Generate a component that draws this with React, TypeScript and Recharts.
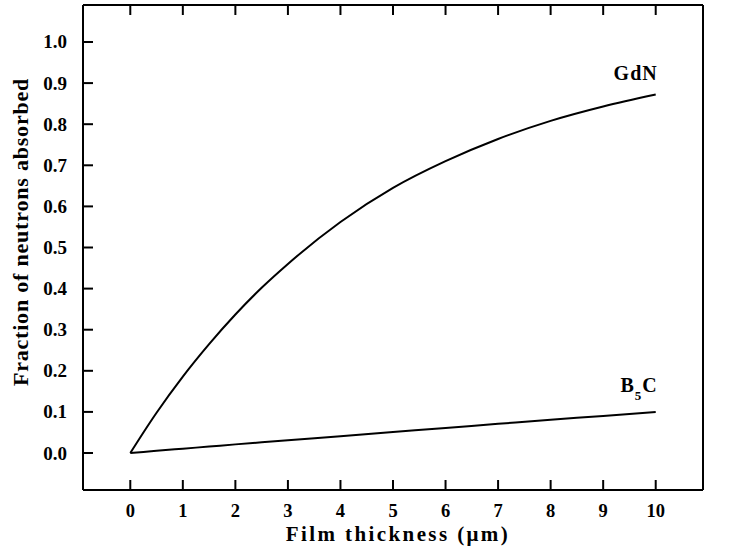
import { LineChart, Line, XAxis, YAxis, LabelList } from "recharts";

const thickness = [0, 0.25, 0.5, 1, 1.5, 2, 2.5, 3, 4, 5, 6, 7, 8, 9, 10];
const gdn = [0, 0.05, 0.098, 0.186, 0.265, 0.337, 0.402, 0.46, 0.562, 0.645, 0.71, 0.764, 0.808, 0.843, 0.872];
const b5c = [0, 0.0026, 0.0052, 0.0105, 0.0157, 0.021, 0.026, 0.031, 0.041, 0.051, 0.061, 0.071, 0.081, 0.090, 0.1];

const xTicks = [0, 1, 2, 3, 4, 5, 6, 7, 8, 9, 10];
const yTicks = [0, 0.1, 0.2, 0.3, 0.4, 0.5, 0.6, 0.7, 0.8, 0.9, 1.0];

const data = thickness.map((t, i) => ({ t, gdn: gdn[i], b5c: b5c[i] }));
const last = data.length - 1;

const W = 741;
const H = 557;
const box = { left: 83, right: 703, top: 5, bottom: 490 };
const font = "'Liberation Serif', 'Times New Roman', serif";
const tickLen = 10;

const txt = { fontFamily: font, fontWeight: 700, fill: "#000" };

const BottomTick = ({ x, payload }: any) => (
  <g>
    <line x1={x} x2={x} y1={box.bottom} y2={box.bottom - tickLen} stroke="#000" strokeWidth={2} />
    <text x={x} y={517} textAnchor="middle" fontSize={18.5} {...txt}>
      {payload.value}
    </text>
  </g>
);

const TopTick = ({ x }: any) => (
  <line x1={x} x2={x} y1={box.top} y2={box.top + tickLen} stroke="#000" strokeWidth={2} />
);

const LeftTick = ({ y, payload }: any) => (
  <g>
    <line x1={box.left} x2={box.left + tickLen} y1={y} y2={y} stroke="#000" strokeWidth={2} />
    <text x={67} y={y + 6.5} textAnchor="end" fontSize={19} {...txt}>
      {payload.value.toFixed(1)}
    </text>
  </g>
);

const RightTick = ({ y, payload }: any) => (
  <g>
    <line x1={box.right} x2={box.right - tickLen} y1={y} y2={y} stroke="#000" strokeWidth={2} />
    <text x={719} y={y + 6.5} textAnchor="start" fontSize={19} {...txt}>
      {payload.value.toFixed(1)}
    </text>
  </g>
);

const gdnLabel = (p: any) =>
  p.index === last ? (
    <text x={p.x + 2} y={p.y - 15} textAnchor="end" fontSize={20} letterSpacing={1} {...txt}>
      GdN
    </text>
  ) : null;

const b5cLabel = (p: any) =>
  p.index === last ? (
    <text x={p.x + 2} y={p.y - 20} textAnchor="end" fontSize={20} letterSpacing={1} {...txt}>
      B
      <tspan dy={8} fontSize={13}>5</tspan>
      <tspan dy={-8}>C</tspan>
    </text>
  ) : null;

const xTitle = () => (
  <text x={398} y={541} textAnchor="middle" fontSize={21} letterSpacing={2.4} {...txt}>
    Film thickness (μm)
  </text>
);

const yTitle = () => (
  <text transform="translate(28,232) rotate(-90)" textAnchor="middle" fontSize={22} letterSpacing={0.8} {...txt}>
    Fraction of neutrons absorbed
  </text>
);

const axisLine = { stroke: "#000", strokeWidth: 2 };

export default function App() {
  return (
    <div style={{ position: "absolute", left: 0, top: 0, width: W, height: H, background: "#fff" }}>
      <LineChart width={W} height={H} data={data} margin={{ top: 0, right: 0, bottom: 0, left: 0 }}>
        <XAxis
          xAxisId="b"
          dataKey="t"
          type="number"
          domain={[-0.9, 10.9]}
          ticks={xTicks}
          interval={0}
          height={H - box.bottom}
          axisLine={axisLine}
          tickLine={false}
          tick={<BottomTick />}
          label={{ content: xTitle }}
        />
        <XAxis
          xAxisId="t"
          orientation="top"
          dataKey="t"
          type="number"
          domain={[-0.9, 10.9]}
          ticks={xTicks}
          interval={0}
          height={box.top}
          axisLine={axisLine}
          tickLine={false}
          tick={<TopTick />}
        />
        <YAxis
          yAxisId="l"
          type="number"
          domain={[-0.09, 1.09]}
          ticks={yTicks}
          interval={0}
          width={box.left}
          axisLine={axisLine}
          tickLine={false}
          tick={<LeftTick />}
          label={{ content: yTitle }}
        />
        <YAxis
          yAxisId="r"
          orientation="right"
          type="number"
          domain={[-0.09, 1.09]}
          ticks={yTicks}
          interval={0}
          width={W - box.right}
          axisLine={axisLine}
          tickLine={false}
          tick={<RightTick />}
        />
        <Line
          xAxisId="b"
          yAxisId="l"
          type="monotone"
          dataKey="gdn"
          stroke="#000"
          strokeWidth={2}
          dot={false}
          isAnimationActive={false}
        >
          <LabelList dataKey="gdn" content={gdnLabel} />
        </Line>
        <Line
          xAxisId="b"
          yAxisId="l"
          type="monotone"
          dataKey="b5c"
          stroke="#000"
          strokeWidth={2}
          dot={false}
          isAnimationActive={false}
        >
          <LabelList dataKey="b5c" content={b5cLabel} />
        </Line>
      </LineChart>
    </div>
  );
}
